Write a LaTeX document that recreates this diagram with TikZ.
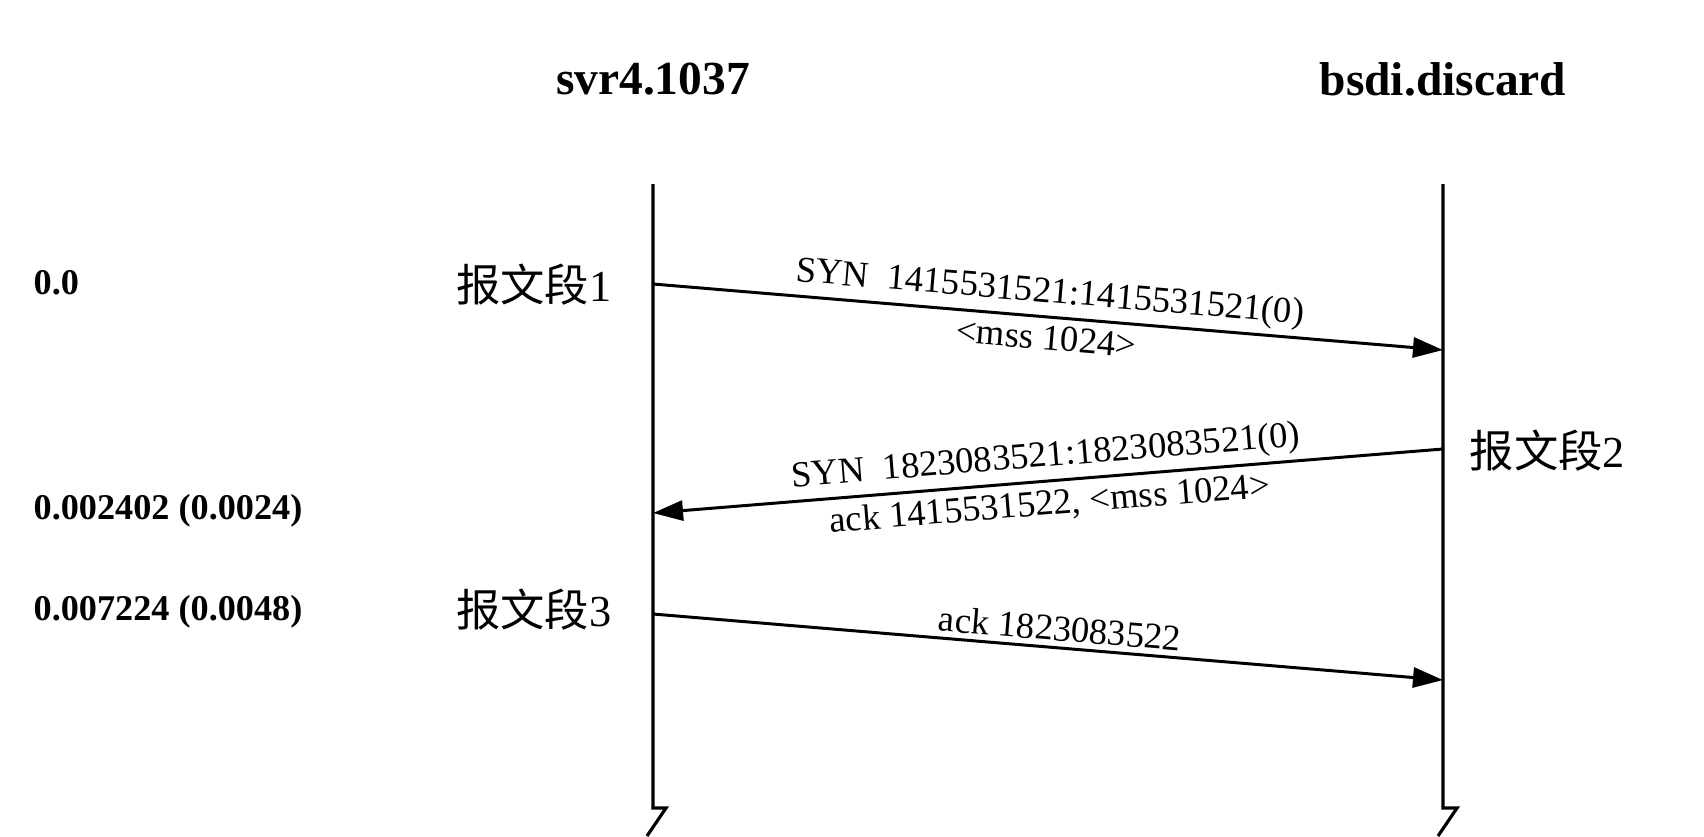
\documentclass[tikz,border=0pt]{standalone}
\usepackage{fontspec}
\setmainfont{Liberation Serif}
\newfontfamily\cjk{Noto Sans CJK SC}
\usetikzlibrary{arrows.meta}
\tikzset{
  lifeline/.style={line width=0.9pt},
  msg/.style={line width=0.85pt, -{Triangle[length=0.3cm,width=0.2cm]}},
  title/.style={font=\bfseries\fontsize{13.5}{16}\selectfont},
  timelbl/.style={anchor=west, font=\bfseries\fontsize{10.3}{12}\selectfont, inner sep=0pt},
  seglbl/.style={font=\fontsize{12.6}{15}\selectfont, inner sep=0pt},
  msglbl/.style={font=\fontsize{10.4}{12}\selectfont, sloped},
  msgabove/.style={msglbl, above, inner sep=1.5pt},
  msgbelow/.style={msglbl, below, inner sep=2pt},
}
\begin{document}
\begin{tikzpicture}[x=0.01cm,y=-0.01cm]
\useasboundingbox (0,0) rectangle (1704,836);
% titles
\node[title] (t1) at (653,79) {svr4.1037};
\node[title] (t2) at (1443,79) {bsdi.discard};
% lifelines
\coordinate (Ltop) at (653,184);
\coordinate (Lbot) at (653,808);
\coordinate (Lk) at (666,808);
\coordinate (Lend) at (647,836);
\coordinate (Rtop) at (1443,184);
\coordinate (Rbot) at (1443,808);
\coordinate (Rk) at (1457,808);
\coordinate (Rend) at (1438,836);
\draw[lifeline] (Ltop) -- (Lbot) -- (Lk) -- (Lend);
\draw[lifeline] (Rtop) -- (Rbot) -- (Rk) -- (Rend);
% message points
\coordinate (L1) at (653,284);
\coordinate (R1) at (1443,350);
\coordinate (R2) at (1443,449);
\coordinate (L2) at (653,513);
\coordinate (L3) at (653,614);
\coordinate (R3) at (1443,680);
% messages
\draw[msg] (L1) -- node[msgabove, pos=0.5] {SYN\ \ 1415531521:1415531521(0)}
                   node[msgbelow, pos=0.5] {<mss 1024>} (R1);
\draw[msg] (R2) -- node[msgabove, pos=0.5] {SYN\ \ 1823083521:1823083521(0)}
                   node[msgbelow, pos=0.5] {ack 1415531522, <mss 1024>} (L2);
\draw[msg] (L3) -- node[msgabove, pos=0.513] {ack 1823083522} (R3);
% time labels
\node[timelbl] (tm0) at (33,283) {0.0};
\node[timelbl] (tm1) at (33,511) {0.002402 (0.0024)};
\node[timelbl] (tm2) at (33,612) {0.007224 (0.0048)};
% segment labels
\node[seglbl, anchor=east] (s1) at (612,285) {{\cjk 报文段}1};
\node[seglbl, anchor=west] (s2) at (1469,451) {{\cjk 报文段}2};
\node[seglbl, anchor=east] (s3) at (612,610) {{\cjk 报文段}3};
\end{tikzpicture}
\end{document}
